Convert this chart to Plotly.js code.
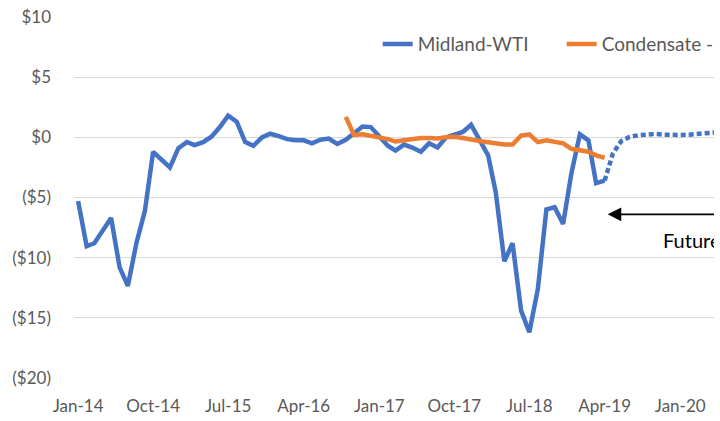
<!DOCTYPE html>
<html>
<head>
<meta charset="utf-8">
<script src="https://cdn.plot.ly/plotly-3.0.1.min.js"></script>
<style>
  html, body { margin: 0; padding: 0; background: #fff; overflow: hidden; }
  #clip { width: 714px; height: 421px; overflow: hidden; position: relative; }
  #chart { width: 820px; height: 421px; }
</style>
</head>
<body>
<div id="clip"><div id="chart"></div></div>
<script>
// ---- data (monthly, $/bbl differential) ----
const blueStart = [2014, 1];   // Jan-14
const midlandWTI = [
  -5.3, -9.05, -8.8, -7.7, -6.7, -10.8, -12.35, -8.8, -6.1, -1.2, -1.9, -2.5,
  -0.9, -0.4, -0.65, -0.4, 0.05, 0.85, 1.8, 1.3, -0.4, -0.7, 0.0, 0.3,
  0.1, -0.15, -0.25, -0.25, -0.5, -0.2, -0.1, -0.55, -0.2, 0.3, 0.9, 0.85,
  0.1, -0.7, -1.1, -0.6, -0.85, -1.2, -0.5, -0.85, 0.0, 0.25, 0.45, 1.05,
  -0.2, -1.5, -4.6, -10.3, -8.8, -14.4, -16.2, -12.6, -6.0, -5.8, -7.2, -3.0,
  0.25, -0.25, -3.8, -3.6
];
const orangeStart = [2016, 9];  // Sep-16
const condensate = [
  1.7, 0.2, 0.25, 0.15, 0.03, -0.15, -0.35, -0.25, -0.1, -0.05, -0.05, -0.1,
  0.0, 0.05, -0.05, -0.2, -0.3, -0.4, -0.5, -0.6, -0.6, 0.15, 0.25, -0.4,
  -0.25, -0.4, -0.5, -0.95, -1.1, -1.2, -1.5, -1.7
];
const futuresStart = [2019, 4];  // Apr-19
const futures = [
  -3.6, -1.35, -0.3, 0.03, 0.17, 0.25, 0.28, 0.22, 0.17, 0.2, 0.22, 0.28,
  0.33, 0.42, 0.45
];
const yTickVals = [10, 5, 0, -5, -10, -15, -20];
const yTickText = ["$10", "$5", "$0", "($5)", "($10)", "($15)", "($20)"];
const seriesNames = ["Midland-WTI", "Condensate - Midland"];

function monthDates(start, count) {
  const out = [];
  let y = start[0], m = start[1];
  for (let i = 0; i < count; i++) {
    out.push(y + "-" + String(m).padStart(2, "0") + "-01");
    m++; if (m > 12) { m = 1; y++; }
  }
  return out;
}

const BLUE = "#4472C4", ORANGE = "#ED7D31", TXT = "#595959";
const FONT = "Lato, 'Open Sans', sans-serif";

const traces = [
  {
    x: monthDates(blueStart, midlandWTI.length), y: midlandWTI,
    type: "scatter", mode: "lines", name: seriesNames[0],
    line: { color: BLUE, width: 4.5, shape: "linear" }
  },
  {
    x: monthDates(orangeStart, condensate.length), y: condensate,
    type: "scatter", mode: "lines", name: seriesNames[1],
    line: { color: ORANGE, width: 4.5 }
  },
  {
    x: monthDates(futuresStart, futures.length), y: futures,
    type: "scatter", mode: "lines", name: "Futures", showlegend: false,
    line: { color: BLUE, width: 4.5, dash: "5px,3px" }
  }
];

const layout = {
  width: 820, height: 421,
  margin: { l: 74, r: 106, t: 17, b: 43, pad: 0 },
  paper_bgcolor: "#fff", plot_bgcolor: "#fff",
  font: { family: FONT, size: 17, color: TXT },
  showlegend: true,
  legend: {
    orientation: "h", x: 0.4745, xanchor: "left", y: 0.925, yanchor: "middle",
    bgcolor: "rgba(0,0,0,0)", font: { family: FONT, size: 19, color: TXT },
    itemwidth: 30, tracegroupgap: 0, entrywidth: 139, entrywidthmode: "pixels"
  },
  xaxis: {
    type: "date",
    range: ["2013-12-17", "2020-05-03"],
    tick0: "2014-01-01", dtick: "M9", tickformat: "%b-%y",
    showgrid: false, zeroline: false, showline: false, ticks: "",
    ticklabelstandoff: 16,
    tickfont: { family: FONT, size: 17, color: TXT }
  },
  yaxis: {
    range: [-20, 10],
    tickvals: yTickVals, ticktext: yTickText,
    showgrid: true, gridcolor: "#d9d9d9", gridwidth: 1,
    zeroline: false, showline: false, ticks: "",
    ticklabelstandoff: 22,
    tickfont: { family: FONT, size: 17, color: TXT }
  },
  annotations: [
    {
      x: "2019-04-12", y: -6.4, xref: "x", yref: "y",
      ax: 160, ay: 0, axref: "pixel", ayref: "pixel",
      text: "", showarrow: true, arrowhead: 2, arrowsize: 1.7,
      arrowwidth: 1.6, arrowcolor: "#000"
    },
    {
      x: "2019-10-22", y: -8.55, xref: "x", yref: "y",
      xanchor: "left", yanchor: "middle", showarrow: false,
      text: "Futures", font: { family: FONT, size: 20, color: "#000" }
    }
  ]
};

Plotly.newPlot("chart", traces, layout, { displayModeBar: false, staticPlot: true });
</script>
</body>
</html>
